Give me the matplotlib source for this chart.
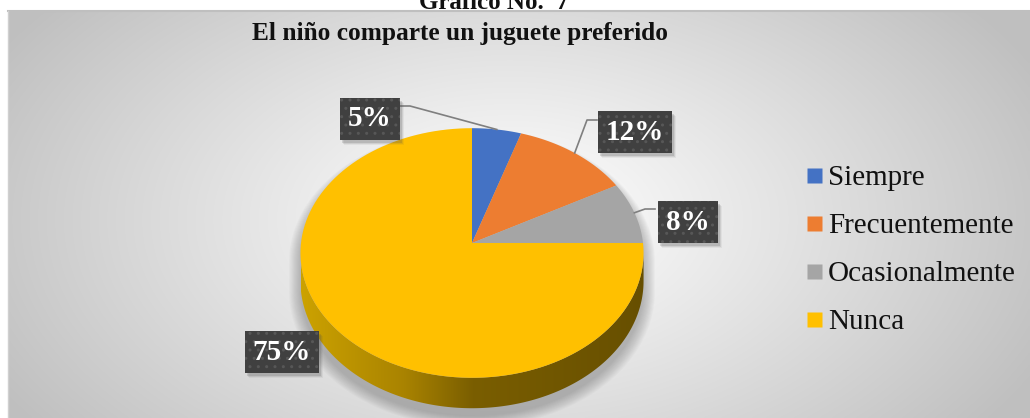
import numpy as np
import matplotlib
matplotlib.use('Agg')  # noqa
import matplotlib.pyplot as plt
from matplotlib.patches import Polygon, Rectangle
from matplotlib.lines import Line2D
from matplotlib.colors import LinearSegmentedColormap

categories = ['Siempre', 'Frecuentemente', 'Ocasionalmente', 'Nunca']
percent = [5, 12, 8, 75]
colors = ['#4472C4', '#ED7D31', '#A5A5A5', '#FFC000']

title = 'El niño comparte un juguete preferido'
top_caption = 'Gráfico No.  7'

W, H = 1030, 418
SERIF = ['Liberation Serif', 'DejaVu Serif']

# pie geometry (pixel units), mild perspective
CX, CY = 472, 243
R, RV = 171, 124
P = 0.08
DEPTH = 28


def proj(theta, z=0.0):
    # theta clockwise from the far (top) point
    X = np.sin(theta)
    Y = np.cos(theta)
    s = 1.0 / (1.0 + P * Y)
    return CX + R * X * s, CY - RV * Y * s + z * s


fig = plt.figure(figsize=(W / 100, H / 100), dpi=100)
ax = fig.add_axes([0, 0, 1, 1])
ax.set_xlim(0, W)
ax.set_ylim(H, 0)
ax.axis('off')

# chart area background: radial gradient
gx, gy = np.meshgrid(np.linspace(8, W, 400), np.linspace(11, H, 200))
d = np.sqrt(((gx - 510) / 590) ** 2 + ((gy - 220) / 350) ** 2)
g = 1.0 - 0.25 * np.clip(d, 0, 1) ** 1.1
ax.imshow(np.dstack([g, g, g]), extent=(8, W, H, 11), aspect='auto',
          zorder=0, interpolation='bilinear')
ax.plot([8, W], [11, 11], color='#BFBFBF', lw=1.5, zorder=1)
ax.plot([8, 8], [11, H], color='#D0D0D0', lw=1.0, zorder=1)

# silhouette of the pie (back of the top face + front of the bottom rim)
ta = np.arccos(-P)
back = np.linspace(-ta, ta, 200)
front = np.linspace(ta, 2 * np.pi - ta, 200)
bx, by = proj(back)
fx, fy = proj(front, DEPTH)
sil = np.column_stack([np.r_[bx, fx], np.r_[by, fy]])

# soft shadow
for k in range(12):
    sc = 1.0 + 0.006 * k
    pts = np.column_stack([CX + (sil[:, 0] - CX) * sc,
                           CY + 8 + (sil[:, 1] - CY) * sc])
    ax.add_patch(Polygon(pts, closed=True, facecolor='#5A5A5A',
                         edgecolor='none', alpha=0.035, zorder=1))

# side wall with horizontal shading
tx, ty = proj(front)
side = np.column_stack([np.r_[tx, fx[::-1]], np.r_[ty, fy[::-1]]])
side_patch = Polygon(side, closed=True, facecolor='none', edgecolor='none')
ax.add_patch(side_patch)
side_cmap = LinearSegmentedColormap.from_list(
    'side', [(0.0, '#CCA200'), (0.3, '#A98300'), (0.5, '#7A5E00'),
             (1.0, '#674F00')])
grad = np.linspace(0, 1, 256)[None, :]
im = ax.imshow(grad, cmap=side_cmap, extent=(CX - R, CX + R + 2, H, 230),
               aspect='auto', zorder=2)
im.set_clip_path(side_patch)

# top faces
bounds = np.cumsum([0] + percent) / 100.0 * 2 * np.pi
mids = []
for i, c in enumerate(colors):
    th = np.linspace(bounds[i], bounds[i + 1], 120)
    x, y = proj(th)
    pts = np.column_stack([np.r_[CX, x], np.r_[CY, y]])
    ax.add_patch(Polygon(pts, closed=True, facecolor=c, edgecolor='none',
                         zorder=3))
    mids.append((bounds[i] + bounds[i + 1]) / 2)

# data labels
label_xy = [(370, 119), (635, 132), (688, 222), (282, 352)]
elbows = [[(410, 106), (400, 106)], [(587, 120), (597, 120)],
          [(645, 209), (655, 209)], None]
labels = []
for i, v in enumerate(percent):
    if elbows[i] is not None:
        ex, ey = proj(mids[i])
        xs = [ex] + [p[0] for p in elbows[i]]
        ys = [ey] + [p[1] for p in elbows[i]]
        ax.plot(xs, ys, color='#7F7F7F', lw=1.2, zorder=4)
    lx, ly = label_xy[i]
    t = ax.text(lx, ly, f'{v}%', ha='center', va='center', color='white',
                fontsize=21, fontweight='bold', family=SERIF, zorder=5,
                bbox=dict(boxstyle='square,pad=0.27', facecolor='#404040',
                          edgecolor='#575757', lw=0, hatch='..'))
    labels.append(t)

# titles
ax.text(494, 9, top_caption, ha='center', va='baseline', fontsize=18,
        fontweight='bold', family=SERIF, color='#111111', zorder=0.5)
ax.text(460, 40, title, ha='center', va='baseline', fontsize=18.3,
        fontweight='bold', family=SERIF, color='#111111', zorder=5)

# legend
handles = [Line2D([], [], marker='s', ls='none', markersize=10.8,
                  markerfacecolor=c, markeredgecolor='none') for c in colors]
leg = fig.legend(handles, categories, loc='center left',
                 bbox_to_anchor=(786 / W, 1 - 250 / H), frameon=False,
                 prop={'family': SERIF, 'size': 21}, labelspacing=0.74,
                 handlelength=0.55, handletextpad=0.19, borderpad=0.2)
for txt in leg.get_texts():
    txt.set_color('#111111')

# soft drop shadows under the label boxes, sized from the drawn boxes
fig.canvas.draw()
inv = ax.transData.inverted()
for t in labels:
    ext = t.get_bbox_patch().get_window_extent()
    (x0, y1), (x1, y0) = inv.transform([[ext.x0, ext.y0], [ext.x1, ext.y1]])
    for k, a in enumerate([0.18, 0.12, 0.07]):
        ax.add_patch(Rectangle((x0 + 2 + k, y0 + 3 + k), x1 - x0, y1 - y0,
                               facecolor='#505050', edgecolor='none',
                               alpha=a, zorder=4.5))

fig.savefig('out.png', dpi=100)
